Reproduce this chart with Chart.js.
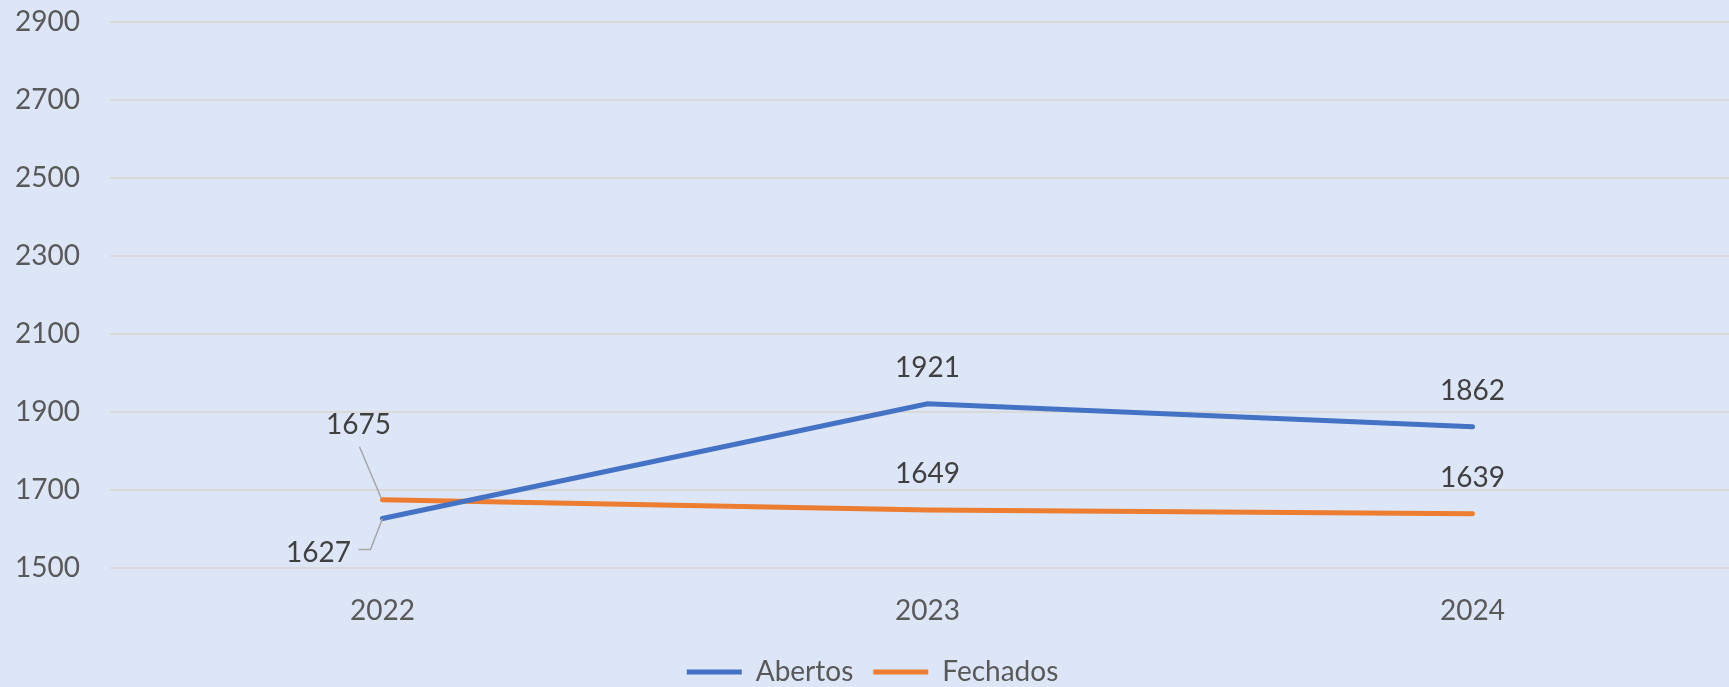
<!DOCTYPE html>
<html>
<head>
<meta charset="utf-8">
<script src="https://cdn.jsdelivr.net/npm/chart.js@4.4.1/dist/chart.umd.min.js"></script>
<style>
    html, body { margin: 0; padding: 0; overflow: hidden; background: #dce6f7; }
    #wrap { width: 1745px; height: 687px; position: relative; }
</style>
</head>
<body>
<div id="wrap"><canvas id="line-graph"></canvas></div>
<script>
// chart data
const years = ['2022', '2023', '2024']
const abertos = [1627, 1921, 1862]
const fechados = [1675, 1649, 1639]
const yTicks = [1500, 1700, 1900, 2100, 2300, 2500, 2700, 2900]

const blue = '#4472c4'
const orange = '#ed7d31'

// value labels, drawn above each point; the 2022 ones sit off to the side with a leader line
const valueLabels = {
    id: 'valueLabels',
    afterDatasetsDraw(chart) {
        let ctx = chart.ctx
        ctx.save()
        ctx.font = '28px Lato'
        ctx.fillStyle = '#404040'
        ctx.textAlign = 'center'
        ctx.textBaseline = 'middle'
        chart.data.datasets.forEach((ds, di) => {
            let meta = chart.getDatasetMeta(di)
            meta.data.forEach((pt, i) => {
                let text = String(ds.data[i])
                if (i == 0 && di == 0) {
                    ctx.fillText(text, pt.x - 64, pt.y + 34)
                    ctx.beginPath()
                    ctx.strokeStyle = '#a6a6a6'
                    ctx.lineWidth = 1.5
                    ctx.moveTo(pt.x, pt.y)
                    ctx.lineTo(pt.x - 12, pt.y + 31)
                    ctx.lineTo(pt.x - 24, pt.y + 31)
                    ctx.stroke()
                } else if (i == 0 && di == 1) {
                    ctx.fillText(text, pt.x - 24, pt.y - 75)
                    ctx.beginPath()
                    ctx.strokeStyle = '#a6a6a6'
                    ctx.lineWidth = 1.5
                    ctx.moveTo(pt.x - 1, pt.y - 1)
                    ctx.lineTo(pt.x - 23, pt.y - 53)
                    ctx.stroke()
                } else {
                    ctx.fillText(text, pt.x, pt.y - 36)
                }
            })
        })
        ctx.restore()
    }
}

let data = {
    labels: years,
    datasets: [{
        label: 'Abertos',
        data: abertos,
        borderColor: blue,
        backgroundColor: blue,
        borderWidth: 5,
        pointRadius: 0,
        borderCapStyle: 'round',
        tension: 0
    }, {
        label: 'Fechados',
        data: fechados,
        borderColor: orange,
        backgroundColor: orange,
        borderWidth: 5,
        pointRadius: 0,
        borderCapStyle: 'round',
        tension: 0
    }]
}

let options = {
    responsive: true,
    maintainAspectRatio: false,
    animation: false,
    layout: { padding: { top: 22, left: 0, right: 0, bottom: -9 } },
    scales: {
        x: {
            offset: true,
            afterFit(scale) { scale.height = 70 },
            grid: { display: false, drawTicks: false },
            border: { display: false },
            ticks: { color: '#595959', font: { family: 'Lato', size: 28 }, padding: 26 }
        },
        y: {
            min: 1500,
            max: 2900,
            afterFit(scale) {
                scale.width = 110
                scale.paddingTop = 0
                scale.paddingBottom = 0
            },
            afterBuildTicks(scale) { scale.ticks = yTicks.map((v) => ({ value: v })) },
            grid: { color: '#d9d9d9', lineWidth: 2, drawTicks: false },
            border: { display: false },
            ticks: {
                color: '#595959',
                font: { family: 'Lato', size: 28 },
                padding: 30,
                callback: (v) => String(v)
            }
        }
    },
    plugins: {
        tooltip: { enabled: false },
        legend: {
            display: true,
            position: 'bottom',
            labels: {
                color: '#595959',
                font: { family: 'Lato', size: 28 },
                boxWidth: 55,
                boxHeight: 5,
                padding: 20,
                generateLabels(chart) {
                    return Chart.defaults.plugins.legend.labels.generateLabels(chart).map((item) => {
                        item.lineWidth = 0
                        return item
                    })
                }
            }
        }
    }
}

let myLineChart = new Chart(document.getElementById('line-graph').getContext('2d'), {
    type: 'line',
    data: data,
    options: options,
    plugins: [valueLabels]
})
</script>
</body>
</html>
